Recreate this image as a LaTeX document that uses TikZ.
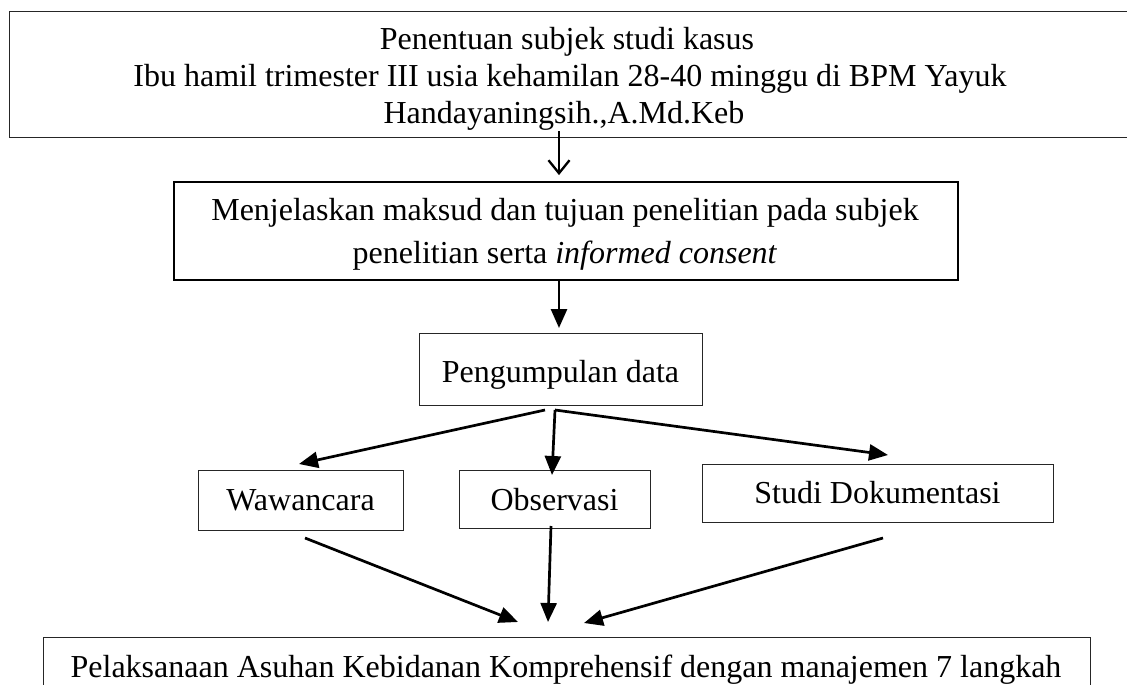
\documentclass[tikz,border=0pt]{standalone}
\usepackage{fontspec}
\setmainfont{Liberation Serif}
\usetikzlibrary{arrows.meta}
\begin{document}
\begin{tikzpicture}[x=1pt,y=-1pt,
  box/.style={draw=black!85, line width=1.4pt, inner sep=0pt, anchor=north west},
  boxthick/.style={draw=black, line width=2.4pt, inner sep=0pt, anchor=north west},
  txt/.style={anchor=base, inner sep=0pt, font=\fontsize{32}{37}\selectfont},
  arr/.style={line width=2.7pt, -{Triangle[length=19pt,width=16pt]}},
  openarr/.style={line width=2.2pt, -{Straight Barb[length=13pt,width=21pt,line width=2.2pt]}},
]
\useasboundingbox (0,0) rectangle (1127,685);

% boxes
\node[box, minimum width=1140pt, minimum height=126pt] (top) at (9,11) {};
\node[boxthick, minimum width=784pt, minimum height=98pt] (expl) at (173,181) {};
\node[box, minimum width=283pt, minimum height=72pt] (peng) at (419,333) {};
\node[box, minimum width=205pt, minimum height=60pt] (waw) at (198,470) {};
\node[box, minimum width=191pt, minimum height=58pt] (obs) at (459,470) {};
\node[box, minimum width=351pt, minimum height=58pt] (stud) at (702,464) {};
\node[box, minimum width=1047pt, minimum height=80pt] (pel) at (43,637) {};

% texts
\node[txt] (t1) at (567,50) {Penentuan subjek studi kasus};
\node[txt] (t2) at (570,87) {Ibu hamil trimester III usia kehamilan 28-40 minggu di BPM Yayuk};
\node[txt] (t3) at (564,123) {Handayaningsih.,A.Md.Keb};
\node[txt] (e1) at (565,220) {Menjelaskan maksud dan tujuan penelitian pada subjek};
\node[txt] (e2) at (565,263) {penelitian serta \textit{informed consent}};
\node[txt] (pt) at (560.5,382) {Pengumpulan data};
\node[txt] (wt) at (300.5,510) {Wawancara};
\node[txt] (ot) at (554.5,510) {Observasi};
\node[txt] (st) at (877.5,503) {Studi Dokumentasi};
\node[txt] (lt) at (566,677) {Pelaksanaan Asuhan Kebidanan Komprehensif dengan manajemen 7 langkah};

% connector end points
\coordinate (a1s) at (559,131);
\coordinate (a1e) at (559,175);
\coordinate (a2s) at (559,280);
\coordinate (a2e) at (559,328);
\coordinate (a3s) at (545,410);
\coordinate (a3e) at (299,464);
\coordinate (a4s) at (555,410);
\coordinate (a4e) at (552,475);
\coordinate (a5s) at (555,410);
\coordinate (a5e) at (888,455);
\coordinate (a6s) at (305,538);
\coordinate (a6e) at (518,622);
\coordinate (a7s) at (551,526);
\coordinate (a7e) at (548,622);
\coordinate (a8s) at (883,538);
\coordinate (a8e) at (584,623);

% connectors
\draw[openarr, draw=black!40, shift={(0.8,1.5)}] (a1s) -- (a1e);
\draw[openarr] (a1s) -- (a1e);
\draw[arr] (a2s) -- (a2e);
\draw[arr] (a3s) -- (a3e);
\draw[arr] (a4s) -- (a4e);
\draw[arr] (a5s) -- (a5e);
\draw[arr] (a6s) -- (a6e);
\draw[arr] (a7s) -- (a7e);
\draw[arr] (a8s) -- (a8e);
\end{tikzpicture}
\end{document}
